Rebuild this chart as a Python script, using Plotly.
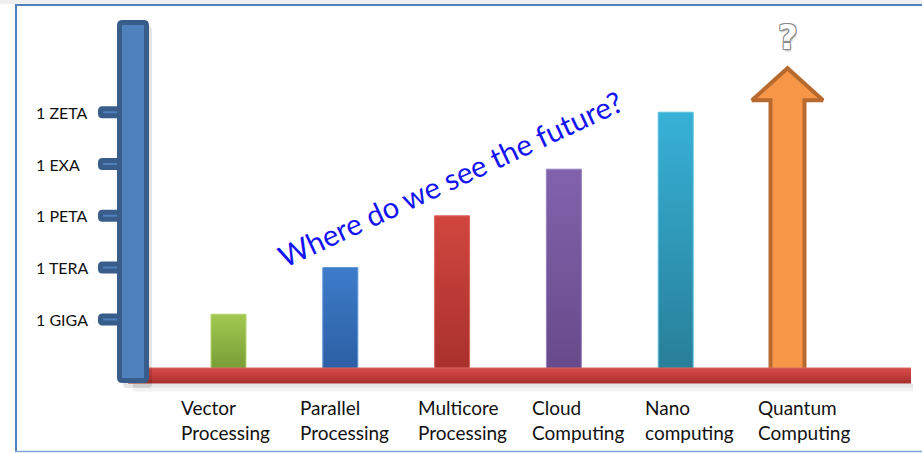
import plotly.graph_objects as go

# ---- data -------------------------------------------------------------
categories = ["Vector<br>Processing", "Parallel<br>Processing", "Multicore<br>Processing",
              "Cloud<br>Computing", "Nano<br>computing", "Quantum<br>Computing"]
levels = [1.1, 2.0, 3.0, 3.9, 5.0, 5.85]          # last entry is drawn as an arrow
tick_vals = [1, 2, 3, 4, 5]
tick_text = ["1 GIGA", "1 TERA", "1 PETA", "1 EXA", "1 ZETA"]
headline = "Where do we see the future?"
unknown_mark = "?"

# ---- styling ------------------------------------------------------------
bar_top = ["#A2C851", "#3D7CCB", "#D1463F", "#8262AB", "#37B1D7"]
bar_bottom = ["#779B35", "#2C5EA2", "#A8302C", "#674A8B", "#287E98"]
bar_edge = ["#B4D66E", "#5A93D6", "#DA6460", "#9A80BD", "#5CC2E0"]
arrow_fill, arrow_line = "#F79646", "#B7692E"
axis_fill, axis_line = "#4F81BD", "#385D8A"

W, H = 922, 453
X0, DX = 228.5, 111.8      # pixel x of first category, pixels per category
Y0, DY = 371.2, 51.8       # pixel y of level 0, pixels per level
FONT = "Lato"


def px_x(p):
    return p / W


def px_y(p):
    return 1 - p / H


def rounded_rect(x0, y0, x1, y1, r):
    pts = [("M", x0 + r, y0), ("L", x1 - r, y0), ("Q", x1, y0, x1, y0 + r),
           ("L", x1, y1 - r), ("Q", x1, y1, x1 - r, y1), ("L", x0 + r, y1),
           ("Q", x0, y1, x0, y1 - r), ("L", x0, y0 + r), ("Q", x0, y0, x0 + r, y0)]
    out = []
    for p in pts:
        cmd, vals = p[0], p[1:]
        coords = []
        for k in range(0, len(vals), 2):
            coords.append(f"{px_x(vals[k]):.5f},{px_y(vals[k + 1]):.5f}")
        out.append(cmd + " ".join(coords))
    return " ".join(out) + " Z"


fig = go.Figure()

# soft shadow below the baseline
sx0, sx1 = (133 - X0) / DX, (913 - X0) / DX
for top_px, bot_px, alpha in [(383.5, 387.5, 0.10), (387.5, 391.5, 0.05)]:
    ya, yb = (Y0 - top_px) / DY, (Y0 - bot_px) / DY
    fig.add_trace(go.Scatter(x=[sx0, sx1, sx1, sx0, sx0], y=[ya, ya, yb, yb, ya],
                             mode="lines", fill="toself", line=dict(width=0),
                             fillcolor=f"rgba(0,0,0,{alpha})", hoverinfo="skip",
                             showlegend=False))

# gradient bars
hw = 17.5 / DX
for i, v in enumerate(levels[:5]):
    fig.add_trace(go.Scatter(
        x=[i - hw, i + hw, i + hw, i - hw, i - hw], y=[0, 0, v, v, 0],
        mode="lines", fill="toself",
        fillgradient=dict(type="vertical",
                          colorscale=[[0, bar_bottom[i]], [1, bar_top[i]]]),
        line=dict(color=bar_edge[i], width=1),
        name=categories[i].replace("<br>", " "), hoverinfo="name+y", showlegend=False))

# arrow for the last category
ia, va = 5, levels[5]
hs, hh = 17 / DX, 35.5 / DX
vb = va - 32 / DY
fig.add_trace(go.Scatter(
    x=[ia - hs, ia - hs, ia - hh, ia, ia + hh, ia + hs, ia + hs, ia - hs],
    y=[0, vb, vb, va, vb, vb, 0, 0],
    mode="lines", fill="toself", fillcolor=arrow_fill,
    line=dict(color=arrow_line, width=4),
    name=categories[5].replace("<br>", " "), hoverinfo="name", showlegend=False))

# red baseline
bx0, bx1 = (128 - X0) / DX, (911 - X0) / DX
by0, by1 = (Y0 - 383.5) / DY, (Y0 - 367.5) / DY
fig.add_trace(go.Scatter(
    x=[bx0, bx1, bx1, bx0, bx0], y=[by0, by0, by1, by1, by0],
    mode="lines", fill="toself",
    fillgradient=dict(type="vertical",
                      colorscale=[[0, "#A32F2D"], [0.55, "#C63F3D"], [0.9, "#D24A47"], [1, "#DC6A66"]]),
    line=dict(width=0), hoverinfo="skip", showlegend=False))

shapes = []
# frame
shapes.append(dict(type="rect", xref="paper", yref="paper", x0=0, x1=1,
                   y0=px_y(4), y1=1, fillcolor="#EFEFEF", line=dict(width=0), layer="below"))
shapes.append(dict(type="line", xref="paper", yref="paper", x0=px_x(15), x1=1,
                   y0=px_y(5), y1=px_y(5), line=dict(color="#4F81BD", width=2)))
shapes.append(dict(type="line", xref="paper", yref="paper", x0=px_x(16), x1=px_x(16),
                   y0=px_y(5), y1=px_y(452), line=dict(color="#4F81BD", width=2)))
shapes.append(dict(type="line", xref="paper", yref="paper", x0=px_x(15), x1=1,
                   y0=px_y(451.5), y1=px_y(451.5), line=dict(color="#7FA5D6", width=1.5)))

# tick marks
for v in tick_vals:
    yc = Y0 - DY * v
    shapes.append(dict(type="path", xref="paper", yref="paper",
                       path=rounded_rect(100.5, yc - 3.5, 120, yc + 3.5, 2),
                       fillcolor=axis_fill, line=dict(color=axis_line, width=5)))

# axis column with a faint shadow
shapes.append(dict(type="path", xref="paper", yref="paper",
                   path=rounded_rect(123, 26, 152, 388, 4),
                   fillcolor="rgba(0,0,0,0.10)", line=dict(width=0)))
shapes.append(dict(type="path", xref="paper", yref="paper",
                   path=rounded_rect(119.5, 22.5, 146.5, 380.5, 3),
                   fillcolor=axis_fill, line=dict(color=axis_line, width=5)))

annotations = []
for v, t in zip(tick_vals, tick_text):
    annotations.append(dict(text=t, xref="paper", yref="y", x=px_x(34), y=v,
                            xanchor="left", yanchor="middle", showarrow=False,
                            font=dict(family=FONT, size=16, color="#111111")))

label_shift = [-50, -42, -36, -34, -33, -32]
for i, c in enumerate(categories):
    annotations.append(dict(text=c, xref="x", yref="paper", x=i, y=px_y(394),
                            xanchor="left", yanchor="top", align="left",
                            xshift=label_shift[i], showarrow=False,
                            font=dict(family=FONT, size=19, color="#111111")))

annotations.append(dict(text=headline, xref="paper", yref="paper",
                        x=px_x(450), y=px_y(178), textangle=-25, showarrow=False,
                        xanchor="center", yanchor="middle",
                        font=dict(family=FONT, size=29.5, color="#1414F2")))

annotations.append(dict(text=f"<b>{unknown_mark}</b>", xref="x", yref="y", x=ia, y=va,
                        yshift=31, xanchor="center", yanchor="middle", showarrow=False,
                        font=dict(family="DejaVu Sans", size=34, color="#FFFFFF",
                                  shadow="-1px -1px 0 #8A8A8A, 1px -1px 0 #8A8A8A, "
                                         "-1px 1px 0 #8A8A8A, 1px 1px 0 #8A8A8A, "
                                         "1px 2px 2px #B0B0B0")))

fig.update_layout(
    width=W, height=H, margin=dict(l=0, r=0, t=0, b=0),
    paper_bgcolor="white", plot_bgcolor="white",
    xaxis=dict(range=[(0 - X0) / DX, (W - X0) / DX], visible=False, fixedrange=True),
    yaxis=dict(range=[(Y0 - H) / DY, Y0 / DY], visible=False, fixedrange=True),
    shapes=shapes, annotations=annotations, showlegend=False,
)

fig.write_html("out.html")
